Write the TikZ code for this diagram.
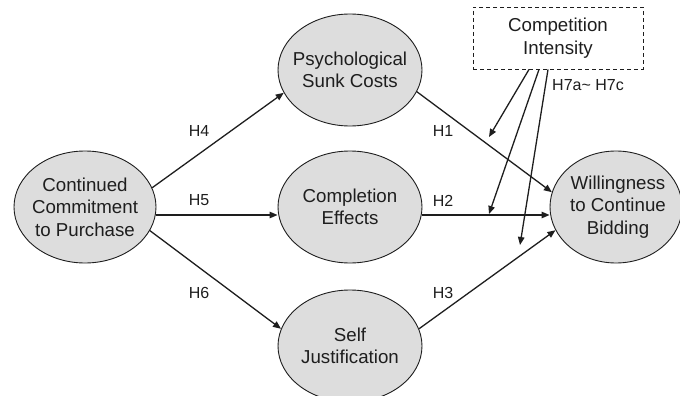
\documentclass[tikz,border=0pt]{standalone}
\usepackage{fontspec}
\setmainfont{Liberation Sans}
\usetikzlibrary{shapes.geometric,arrows.meta}
\definecolor{ellfill}{RGB}{221,221,221}
\definecolor{ink}{RGB}{30,30,30}
\tikzset{
  construct/.style={ellipse, draw=ink, line width=0.9pt, fill=ellfill, inner sep=0pt},
  ctext/.style={align=center, text=ink, font=\fontsize{18.7}{22.5}\selectfont},
  modbox/.style={draw=ink, line width=0.9pt, dash pattern=on 4pt off 3pt, minimum width=170pt, minimum height=62pt, inner sep=0pt, align=center, text=ink, font=\fontsize{18.7}{22.5}\selectfont},
  path/.style={draw=ink, line width=1.3pt, -{Triangle[length=8pt,width=6.5pt]}},
  hlab/.style={text=ink, font=\fontsize{16}{19}\selectfont, inner sep=0pt}
}
\begin{document}
\begin{tikzpicture}[x=1pt,y=-1pt]
\useasboundingbox (0,0) rectangle (680,396);
% constructs
\node[construct, minimum width=142pt, minimum height=112pt] (cc) at (85,207) {};
\node[ctext] (cct) at (85,207) {Continued\\Commitment\\to Purchase};
\node[construct, minimum width=144pt, minimum height=112pt] (ps) at (350,70) {};
\node[ctext] (pst) at (350,70) {Psychological\\Sunk Costs};
\node[construct, minimum width=144pt, minimum height=112pt] (ce) at (350,207) {};
\node[ctext] (cet) at (350,207) {Completion\\Effects};
\node[construct, minimum width=144pt, minimum height=112pt] (sj) at (350,346) {};
\node[ctext] (sjt) at (350,346) {Self\\Justification};
\node[construct, minimum width=132pt, minimum height=112pt] (wb) at (616,207) {};
\node[ctext] (wbt) at (618,207) {Willingness\\to Continue\\Bidding};
% moderator
\node[modbox] (ci) at (558,38) {Competition\\Intensity};
% free ends of moderator arrows
\coordinate (m1) at (489,137);
\coordinate (m2) at (489,214);
\coordinate (m3) at (520,245);
% paths
\draw[path] (cc.16) -- (ps.199);
\draw[path] ([yshift=-8pt]cc.east) -- ([yshift=-8pt]ce.west);
\draw[path] (cc.-20) -- (sj.166);
\draw[path] (ps.-18) -- (wb.167);
\draw[path] ([yshift=-8pt]ce.east) -- ([yshift=-8pt]wb.west);
\draw[path] (sj.14) -- (wb.201);
\draw[path] ([xshift=-29pt]ci.south) -- (m1);
\draw[path] ([xshift=-19pt]ci.south) -- (m2);
\draw[path] ([xshift=-10pt]ci.south) -- (m3);
% labels
\node[hlab] (h4) at (199,131) {H4};
\node[hlab] (h5) at (199,200) {H5};
\node[hlab] (h6) at (199,293) {H6};
\node[hlab] (h1) at (443,131) {H1};
\node[hlab] (h2) at (443,201) {H2};
\node[hlab] (h3) at (443,293) {H3};
\node[hlab, anchor=west] (h7) at (552,85) {H7a\char`~\ H7c};
\end{tikzpicture}
\end{document}
